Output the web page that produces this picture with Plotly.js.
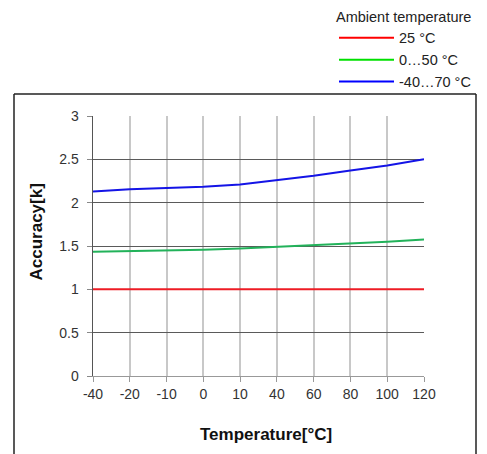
<!DOCTYPE html>
<html>
<head>
<meta charset="utf-8">
<script src="https://cdn.plot.ly/plotly-3.0.1.min.js"></script>
<style>
html,body{margin:0;padding:0;background:#fff;}
#chart{width:487px;height:454px;}
</style>
</head>
<body>
<div id="chart"></div>
<script>
const categories = ["-40","-20","-10","0","10","40","60","80","100","120"];
const series25 = [1, 1, 1, 1, 1, 1, 1, 1, 1, 1];
const series0to50 = [1.435, 1.44, 1.45, 1.457, 1.47, 1.49, 1.507, 1.526, 1.55, 1.576];
const seriesM40to70 = [2.13, 2.155, 2.17, 2.185, 2.21, 2.26, 2.31, 2.37, 2.43, 2.5];
const seriesNames = ["25 °C", "0…50 °C", "-40…70 °C"];
const yTicks = [0, 0.5, 1, 1.5, 2, 2.5, 3];
const xTitle = "Temperature[°C]";
const yTitle = "Accuracy[k]";
const legendTitle = "Ambient temperature";

const font = "Liberation Sans, Arial, sans-serif";

const traces = [
  {x: categories, y: series25, name: seriesNames[0], type: "scatter", mode: "lines",
   line: {color: "#ee1c25", width: 2}, showlegend: false},
  {x: categories, y: series0to50, name: seriesNames[1], type: "scatter", mode: "lines",
   line: {color: "#22b25a", width: 2}, showlegend: false},
  {x: categories, y: seriesM40to70, name: seriesNames[2], type: "scatter", mode: "lines",
   line: {color: "#1414e6", width: 2}, showlegend: false},
  // legend-only entries (legend colours in the reference differ slightly)
  {x: [null], y: [null], name: seriesNames[0], type: "scatter", mode: "lines",
   line: {color: "#ff0000", width: 2}},
  {x: [null], y: [null], name: seriesNames[1], type: "scatter", mode: "lines",
   line: {color: "#00e000", width: 2}},
  {x: [null], y: [null], name: seriesNames[2], type: "scatter", mode: "lines",
   line: {color: "#0000ff", width: 2}}
];

const L = 93, R = 63, T = 116, B = 78, W = 487, H = 454;
const pw = W - L - R, ph = H - T - B;
function px2x(p){ return (p - L) / pw; }
function px2y(p){ return (H - B - p) / ph; }

const layout = {
  width: W, height: H,
  margin: {l: L, r: R, t: T, b: B, pad: 0, autoexpand: false},
  paper_bgcolor: "#ffffff",
  plot_bgcolor: "#ffffff",
  font: {family: font, size: 14, color: "#333333"},
  showlegend: true,
  legend: {
    x: px2x(334), y: px2y(3), xanchor: "left", yanchor: "top",
    xref: "paper", yref: "paper",
    title: {text: legendTitle, font: {family: font, size: 14.5, color: "#222"}},
    font: {family: font, size: 14.5, color: "#222"},
    itemwidth: 55, tracegroupgap: 0,
    bgcolor: "rgba(0,0,0,0)", borderwidth: 0,
    itemclick: false, itemdoubleclick: false
  },
  xaxis: {
    type: "category",
    categoryorder: "array", categoryarray: categories,
    range: [0, categories.length - 1],
    showgrid: true, gridcolor: "#c8c8c8", gridwidth: 2,
    showline: true, linecolor: "#999999", linewidth: 1,
    ticks: "outside", ticklen: 5, tickcolor: "#999999",
    tickfont: {family: font, size: 14, color: "#333"},
    zeroline: false, fixedrange: true
  },
  yaxis: {
    range: [0, 3], tickvals: yTicks, ticktext: yTicks.map(String),
    showgrid: true, gridcolor: "#5a5a5a", gridwidth: 1,
    showline: true, linecolor: "#555555", linewidth: 1.5,
    ticks: "outside", ticklen: 5, tickcolor: "#888",
    ticklabelstandoff: 5,
    tickfont: {family: font, size: 14, color: "#333"},
    zeroline: false, fixedrange: true
  },
  annotations: [
    {text: "<b>" + xTitle + "</b>", xref: "paper", yref: "paper",
     x: px2x(266), y: px2y(434), xanchor: "center", yanchor: "middle",
     showarrow: false, font: {family: font, size: 17, color: "#111"}},
    {text: "<b>" + yTitle + "</b>", xref: "paper", yref: "paper",
     x: px2x(35.5), y: px2y(232), xanchor: "center", yanchor: "middle",
     textangle: -90, showarrow: false, font: {family: font, size: 17, color: "#111"}}
  ],
  shapes: [
    {type: "line", xref: "paper", yref: "paper",
     x0: px2x(14), x1: px2x(476), y0: px2y(94), y1: px2y(94),
     line: {color: "#222", width: 1.5}},
    {type: "line", xref: "paper", yref: "paper",
     x0: px2x(14), x1: px2x(14), y0: px2y(94), y1: px2y(460),
     line: {color: "#222", width: 1.5}},
    {type: "line", xref: "paper", yref: "paper",
     x0: px2x(476), x1: px2x(476), y0: px2y(94), y1: px2y(460),
     line: {color: "#222", width: 1.5}}
  ]
};

Plotly.newPlot("chart", traces, layout, {displayModeBar: false, staticPlot: true});
</script>
</body>
</html>
